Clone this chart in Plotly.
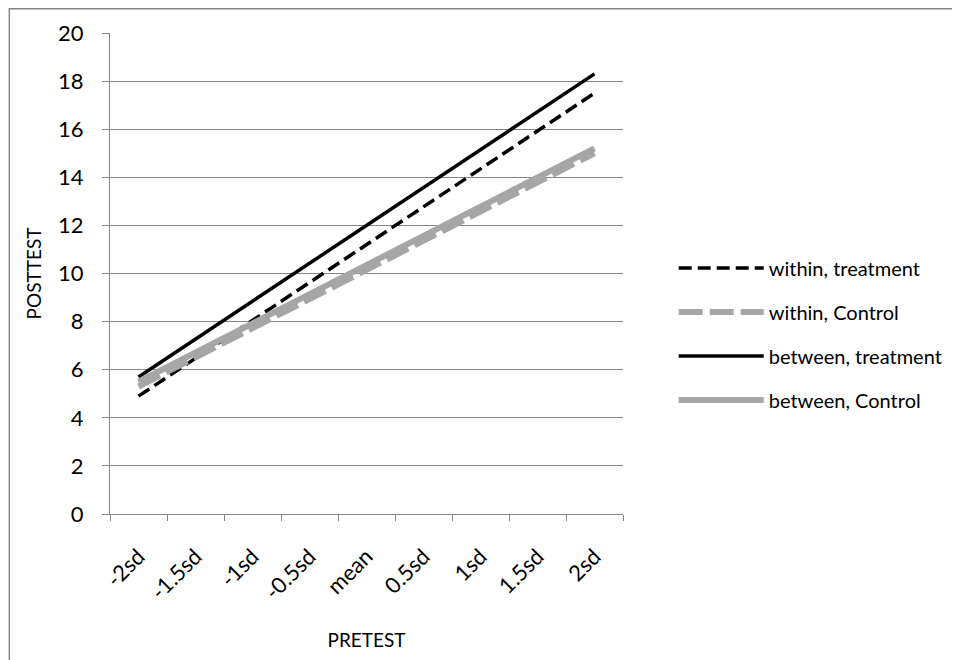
import plotly.graph_objects as go

categories = ["-2sd", "-1.5sd", "-1sd", "-0.5sd", "mean", "0.5sd", "1sd", "1.5sd", "2sd"]
within_treatment = [4.9, 6.48, 8.05, 9.63, 11.2, 12.78, 14.35, 15.93, 17.5]
within_control = [5.3, 6.51, 7.73, 8.94, 10.15, 11.36, 12.58, 13.79, 15.0]
between_treatment = [5.7, 7.28, 8.85, 10.43, 12.0, 13.58, 15.15, 16.73, 18.3]
between_control = [5.5, 6.71, 7.93, 9.14, 10.35, 11.56, 12.78, 13.99, 15.2]
y_ticks = [0, 2, 4, 6, 8, 10, 12, 14, 16, 18, 20]

FONT = "Lato, Open Sans, sans-serif"
GRID = "#868686"

W, H = 952, 652
L, R, T, B = 102, 334, 25, 146
PW, PH = W - L - R, H - T - B

fig = go.Figure()
fig.add_trace(go.Scatter(x=categories, y=within_treatment, mode="lines", name="within, treatment",
                         legendgroup="a", line=dict(color="black", width=3.5, dash="13px,6px")))
fig.add_trace(go.Scatter(x=categories, y=within_control, mode="lines", name="within, Control",
                         legendgroup="b", line=dict(color="#a6a6a6", width=6, dash="24px,7px")))
fig.add_trace(go.Scatter(x=categories, y=between_treatment, mode="lines", name="between, treatment",
                         legendgroup="c", line=dict(color="black", width=3.5)))
fig.add_trace(go.Scatter(x=categories, y=between_control, mode="lines", name="between, Control",
                         legendgroup="d", line=dict(color="#a6a6a6", width=6)))

fig.update_layout(
    width=W, height=H,
    margin=dict(l=L, r=R, t=T, b=B),
    paper_bgcolor="white", plot_bgcolor="white",
    font=dict(family=FONT, size=20, color="black"),
    showlegend=True,
    legend=dict(x=(669 - L) / PW, y=(H - B - 326) / PH, xanchor="left", yanchor="middle",
                font=dict(family=FONT, size=20, color="black"),
                itemwidth=85, tracegroupgap=15, bgcolor="rgba(0,0,0,0)"),
    xaxis=dict(type="category", tickson="boundaries", ticks="outside", ticklen=6,
               tickcolor=GRID, showline=True, linecolor=GRID, linewidth=1,
               showgrid=False, tickangle=-45, range=[-0.5, 8.5],
               tickfont=dict(size=22), ticklabelstandoff=20,
               title=dict(text="PRETEST", font=dict(size=19), standoff=30)),
    yaxis=dict(range=[0, 20], tickvals=y_ticks, ticks="outside", ticklen=7,
               tickcolor=GRID, showline=True, linecolor=GRID, linewidth=1,
               showgrid=True, gridcolor=GRID, gridwidth=1, zeroline=False,
               tickfont=dict(size=22), ticklabelstandoff=14,
               title=dict(text="POSTTEST", font=dict(size=19), standoff=11)),
    shapes=[dict(type="rect", xref="paper", yref="paper",
                 x0=-(L - 0.75) / PW, x1=(W + 20 - L) / PW,
                 y0=-(B + 20) / PH, y1=(PH + T - 0.75) / PH,
                 line=dict(color=GRID, width=1.5))],
)

fig.write_html("out.html")
